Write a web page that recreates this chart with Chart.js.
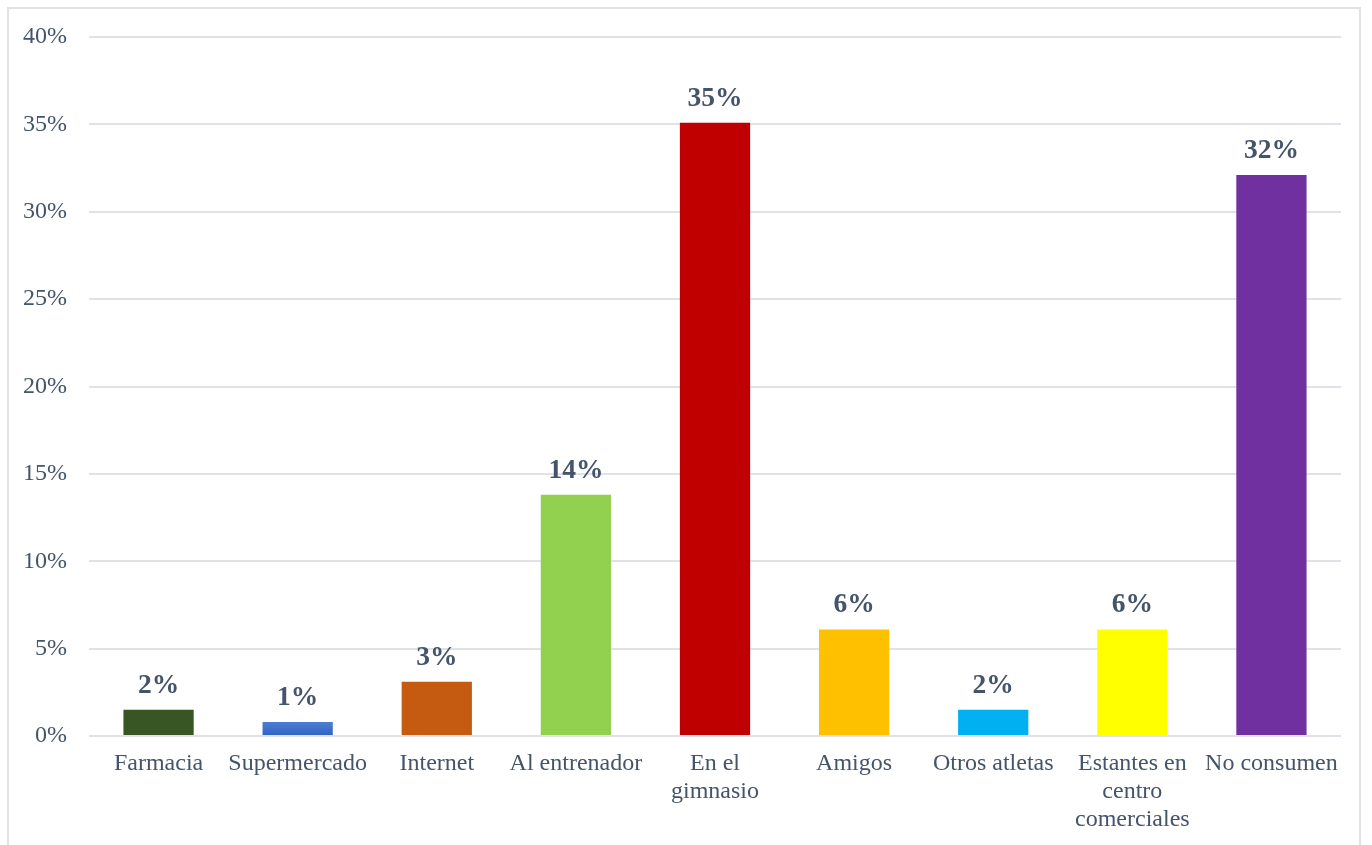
<!DOCTYPE html>
<html>
<head>
<meta charset="utf-8">
<script src="https://cdn.jsdelivr.net/npm/chart.js@4"></script>
<style>
  html, body { margin: 0; padding: 0; background: #fff; overflow: hidden; }
  #wrap { position: absolute; left: 0; top: 0; width: 1372px; height: 845px; }
  #frame {
    position: absolute; left: 7px; top: 7px; width: 1354px; height: 860px;
    border: 2px solid #dfe3e8; box-sizing: border-box;
  }
</style>
</head>
<body>
<div id="wrap">
  <div id="frame"></div>
  <canvas id="chart" width="1372" height="845"></canvas>
</div>
<script>
// lugares de compra de suplementos (porcentaje de encuestados)
const categories = [
  "Farmacia", "Supermercado", "Internet", "Al entrenador", ["En el", "gimnasio"],
  "Amigos", "Otros atletas", ["Estantes en", "centro", "comerciales"], "No consumen"
];
const values = [1.5, 0.8, 3.1, 13.8, 35.1, 6.1, 1.5, 6.1, 32.1];
const barColors = [
  "#375623", "#4472C4", "#C55A11", "#92D050", "#C00000",
  "#FFC000", "#00B0F0", "#FFFF00", "#7030A0"
];
const yTicks = [0, 5, 10, 15, 20, 25, 30, 35, 40];

const textColor = "#44546A";
const serif = "'Liberation Serif', 'Times New Roman', serif";

// etiquetas de valor encima de cada barra
const valueLabels = {
  id: "valueLabels",
  afterDatasetsDraw(chart) {
    const ctx = chart.ctx;
    const meta = chart.getDatasetMeta(0);
    ctx.save();
    ctx.font = "bold 27.5px " + serif;
    ctx.fillStyle = textColor;
    ctx.textAlign = "center";
    ctx.textBaseline = "alphabetic";
    meta.data.forEach((bar, i) => {
      ctx.fillText(Math.round(values[i]) + "%", bar.x, bar.y - 17);
    });
    ctx.restore();
  }
};

function barFill(c) {
  const i = c.dataIndex;
  if (i !== 1) return barColors[i];
  const area = c.chart.chartArea;
  if (!area) return barColors[i];
  // la barra de supermercado lleva un degradado suave
  const el = c.chart.getDatasetMeta(0).data[i];
  const top = el && el.y ? el.y : area.bottom - 15;
  const g = c.chart.ctx.createLinearGradient(0, top, 0, area.bottom);
  g.addColorStop(0, "#4f80d6");
  g.addColorStop(1, "#2f63c2");
  return g;
}

new Chart(document.getElementById("chart"), {
  type: "bar",
  data: {
    labels: categories,
    datasets: [{
      data: values,
      backgroundColor: barFill,
      borderWidth: 0,
      barPercentage: 0.505,
      categoryPercentage: 1
    }]
  },
  options: {
    responsive: false,
    animation: false,
    events: [],
    layout: { padding: { left: 0, right: 31, top: 37, bottom: 0 } },
    plugins: { legend: { display: false }, tooltip: { enabled: false } },
    scales: {
      x: {
        grid: { display: false, drawTicks: false },
        border: { display: false },
        ticks: {
          color: textColor,
          font: { family: serif, size: 24, lineHeight: 1.17 },
          padding: 14,
          maxRotation: 0,
          autoSkip: false
        },
        afterFit(axis) { axis.height = 109; }
      },
      y: {
        min: 0,
        max: 40,
        afterBuildTicks(axis) { axis.ticks = yTicks.map(v => ({ value: v })); },
        grid: { color: "#dfe3e8", lineWidth: 2, drawTicks: false },
        border: { display: false },
        ticks: {
          color: textColor,
          font: { family: serif, size: 24 },
          padding: 22,
          callback: v => v + "%"
        },
        afterFit(axis) { axis.width = 89; }
      }
    }
  },
  plugins: [valueLabels]
});
</script>
</body>
</html>
